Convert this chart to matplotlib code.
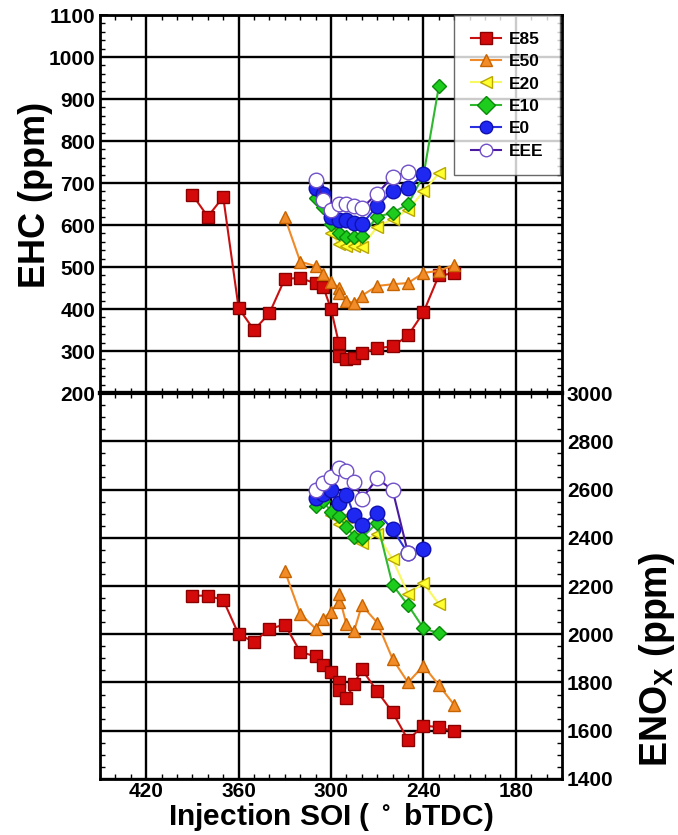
import matplotlib
matplotlib.use("Agg")
import matplotlib.pyplot as plt
from matplotlib.ticker import MultipleLocator, AutoMinorLocator

plt.rcParams['font.family'] = ['Liberation Sans', 'DejaVu Sans']
plt.rcParams['font.weight'] = 'bold'
plt.rcParams['mathtext.default'] = 'regular'

# injection timing sweeps (deg bTDC) and emissions for each fuel
soi_e85 = [390, 380, 370, 360, 350, 340, 330, 320, 310, 305, 300, 295, 295, 290, 285, 280, 270, 260, 250, 240, 230, 220]
ehc_e85 = [672, 620, 667, 402, 350, 390, 472, 474, 461, 452, 400, 320, 287, 280, 283, 295, 307, 311, 337, 392, 480, 485]
nox_e85 = [2160, 2160, 2142, 2000, 1968, 2023, 2040, 1927, 1908, 1873, 1842, 1800, 1770, 1734, 1793, 1855, 1763, 1676, 1562, 1621, 1615, 1597]

soi_e50 = [330, 320, 310, 305, 300, 295, 295, 290, 285, 280, 270, 260, 250, 240, 230, 220]
ehc_e50 = [618, 513, 502, 484, 465, 451, 437, 420, 414, 432, 455, 459, 462, 486, 491, 505]
nox_e50 = [2262, 2085, 2023, 2065, 2094, 2134, 2165, 2041, 2014, 2120, 2048, 1897, 1800, 1869, 1789, 1707]

soi_e20 = [300, 295, 290, 285, 280, 270, 260, 250, 240, 230]
ehc_e20 = [582, 555, 550, 550, 548, 596, 614, 636, 680, 723]
nox_e20 = [2495, 2455, 2485, 2400, 2377, 2415, 2310, 2168, 2211, 2126]

soi_e10 = [310, 305, 300, 295, 290, 285, 280, 270, 260, 250, 240, 230]
ehc_e10 = [665, 642, 603, 582, 571, 571, 573, 620, 629, 650, 718, 930]
nox_e10 = [2530, 2552, 2508, 2490, 2445, 2405, 2400, 2462, 2204, 2121, 2025, 2004]

soi_e0 = [310, 305, 300, 295, 290, 285, 280, 270, 260, 250, 240]
ehc_e0 = [687, 675, 620, 612, 612, 606, 602, 645, 682, 687, 721]
nox_e0 = [2565, 2580, 2598, 2545, 2577, 2494, 2453, 2504, 2435, 2335, 2352]

soi_eee = [310, 305, 300, 295, 290, 285, 280, 270, 260, 250]
ehc_eee = [707, 660, 635, 650, 650, 645, 640, 675, 715, 727]
nox_eee = [2598, 2626, 2652, 2690, 2676, 2632, 2562, 2646, 2597, 2336]

fuels = [
    ('E85', soi_e85, ehc_e85, nox_e85, dict(color='#c81010', marker='s', mfc='#d40a0a', mec='#8a0000', ms=8.5)),
    ('E50', soi_e50, ehc_e50, nox_e50, dict(color='#f08a28', marker='^', mfc='#f28c28', mec='#c86400', ms=9)),
    ('E20', soi_e20, ehc_e20, nox_e20, dict(color='#f8f860', marker='<', mfc='#ffff30', mec='#b8a800', ms=9)),
    ('E10', soi_e10, ehc_e10, nox_e10, dict(color='#30b830', marker='D', mfc='#1ecc1e', mec='#0a8a0a', ms=7.5)),
    ('E0', soi_e0, ehc_e0, nox_e0, dict(color='#2a30e0', marker='o', mfc='#1e28f0', mec='#1010b0', ms=10.5)),
    ('EEE', soi_eee, ehc_eee, nox_eee, dict(color='#4a1aa0', marker='o', mfc='white', mec='#7050c8', ms=10.5)),
]

fig = plt.figure(figsize=(6.78, 8.35), dpi=100)
ax1 = fig.add_axes([0.1475, 0.5293, 0.6815, 0.4527])
ax2 = fig.add_axes([0.1475, 0.0671, 0.6815, 0.4622])

for name, soi, ehc, nox, st in fuels:
    ax1.plot(soi, ehc, lw=1.5, mew=1.0, label=name, **st)
    ax2.plot(soi, nox, lw=1.5, mew=1.0, **st)

for ax in (ax1, ax2):
    ax.set_xlim(450, 150)
    ax.xaxis.set_major_locator(MultipleLocator(60))
    ax.xaxis.set_minor_locator(AutoMinorLocator(6))
    ax.grid(True, which='major', color='black', lw=1.7)
    ax.set_axisbelow(True)
    for sp in ax.spines.values():
        sp.set_linewidth(2.0)
    ax.tick_params(which='both', direction='in', top=True, bottom=True, left=True, right=True,
                   labelsize=15, width=1.2)
    ax.tick_params(which='major', length=6)
    ax.tick_params(which='minor', length=3.5, width=1.0)

ax1.spines['bottom'].set_linewidth(3.0)
ax2.spines['top'].set_linewidth(3.0)

ax1.set_ylim(200, 1100)
ax1.yaxis.set_major_locator(MultipleLocator(100))
ax1.yaxis.set_minor_locator(AutoMinorLocator(5))
ax1.tick_params(labelbottom=False)
ax1.set_ylabel('EHC (ppm)', fontsize=26, fontweight='bold')
ax1.yaxis.set_label_coords(-0.102, 0.525)

ax2.set_ylim(1400, 3000)
ax2.yaxis.set_major_locator(MultipleLocator(200))
ax2.yaxis.set_minor_locator(AutoMinorLocator(4))
ax2.yaxis.tick_right()
ax2.tick_params(which='both', left=True, labelleft=False, labelright=True)
ax2.tick_params(axis='x', pad=2.5)
ax2.yaxis.set_label_position('right')
ax2.set_ylabel('ENO$_X$ (ppm)', fontsize=27, fontweight='bold', rotation=90)
ax2.yaxis.set_label_coords(1.163, 0.31)
ax2.set_xlabel(r'Injection SOI ( $^\circ$ bTDC)', fontsize=21.5, fontweight='bold', labelpad=0)

for lab in ax1.get_yticklabels() + ax2.get_yticklabels() + ax2.get_xticklabels():
    lab.set_fontweight('bold')

leg = ax1.legend(loc='upper right', bbox_to_anchor=(0.995, 1.0), fontsize=12.5,
                 frameon=True, fancybox=False, handlelength=1.75, borderpad=0.95,
                 labelspacing=0.42, handletextpad=0.45, borderaxespad=0.0)
leg.get_frame().set_edgecolor('#444444')
leg.get_frame().set_linewidth(1.0)
for h in leg.legend_handles:
    h.set_markersize(9)

fig.savefig('out.png', dpi=100)
